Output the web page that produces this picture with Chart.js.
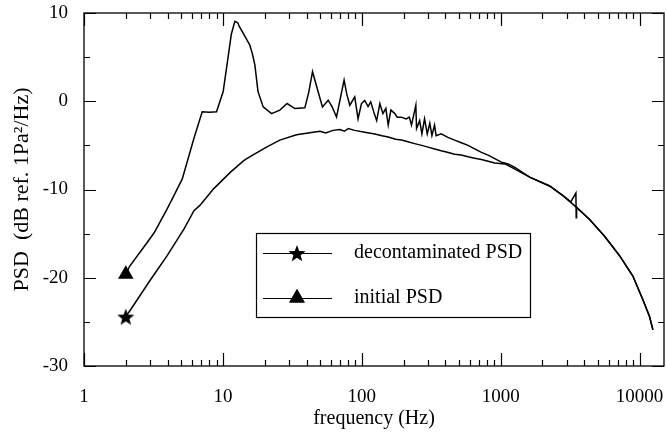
<!DOCTYPE html>
<html>
<head>
<meta charset="utf-8">
<script src="https://cdn.jsdelivr.net/npm/chart.js@4.4.0/dist/chart.umd.min.js"></script>
<style>
  html, body { margin: 0; padding: 0; background: #fff; overflow: hidden; }
  #wrap { width: 666px; height: 434px; position: relative; }
  canvas { display: block; }
</style>
</head>
<body>
<div id="wrap"><canvas id="myChart"></canvas></div>
<script>
// initial PSD (upper curve, with the resonance peaks)
const freqInit = [2, 2.13, 2.85, 3.2, 3.97, 4.44, 5.1, 6.19, 7.1, 8, 9, 10.05, 10.9, 11.5, 12.2, 12.8, 13.1, 15.6, 16.3, 17, 17.9, 19.5,
  22.4, 25.7, 29, 33, 38.9, 41.5, 44.2, 48.5, 52.1, 57.3, 61, 65.8, 70, 74.6, 78, 82, 89, 94, 99.5, 105, 111, 116,
  123, 128, 135, 142, 149, 155, 162, 173, 180, 192, 209, 220, 228, 245, 248, 261, 271, 283, 296, 309, 320, 334, 343,
  373, 417, 466, 521, 582, 650, 727, 812, 907, 1013, 1132, 1265, 1618, 1900, 2252, 2808, 3200, 3480, 3500, 3520,
  4370, 5600, 7180, 8950, 10570, 11800, 12480];
const psdInit = [-19.6, -18.7, -16.0, -14.9, -12.2, -10.7, -8.8, -4.2, -1.2, -1.25, -1.2, 1.1, 5.0, 7.6, 9.05, 8.9, 8.5, 6.4, 5.4, 4.1, 1.1, -0.64,
  -1.4, -1.0, -0.26, -0.83, -0.75, 1.0, 3.35, 1.08, -0.64, 0.12, -0.6, -1.78, 0.3, 2.4, 0.8, -0.45, 0.5, -2.0, -0.26, 0.1, -0.6, -0.07,
  -1.4, -2.2, -0.26, -1.4, -0.8, -2.7, -1.0, -1.4, -1.8, -1.8, -2.0, -1.8, -2.7, -0.45, -3.1, -2.2, -3.7, -2.0, -3.7, -2.5, -3.9, -2.7, -3.9,
  -3.7, -4.1, -4.4, -4.7, -5.0, -5.4, -5.8, -6.1, -6.5, -6.9, -7.1, -7.5, -8.6, -9.1, -9.6, -10.7, -11.4, -10.4, -13.2, -12.0,
  -13.4, -15.3, -17.5, -19.8, -22.5, -24.4, -25.9];

// decontaminated PSD (lower, smooth curve)
const freqDecon = [2, 2.17, 3.02, 3.97, 5.24, 6.19, 6.83, 8.6, 11.4, 14.2, 15.6, 20.6, 25.7, 33.9, 44.7, 50, 55, 62, 69.5, 75,
  80, 89, 105, 124, 140, 155, 175, 193, 215, 240, 270, 300, 335, 373, 420, 466, 520, 582, 650, 727, 812, 907, 1073, 1200, 1618,
  2252, 2808, 3500, 4370, 5600, 7180, 8950, 10570, 11800, 12480];
const psdDecon = [-24.4, -23.6, -20.2, -17.5, -14.5, -12.4, -11.8, -9.9, -8.0, -6.7, -6.3, -5.2, -4.4, -3.8, -3.5, -3.4, -3.6, -3.3, -3.2, -3.4,
  -3.1, -3.3, -3.5, -3.7, -3.9, -4.05, -4.3, -4.4, -4.6, -4.8, -5.0, -5.2, -5.4, -5.6, -5.8, -6.0, -6.1, -6.3, -6.45, -6.6, -6.8, -7.0, -7.1, -7.5, -8.6,
  -9.6, -10.7, -12.0, -13.4, -15.3, -17.5, -19.8, -22.5, -24.4, -25.9];

const xTickLabels = [1, 10, 100, 1000, 10000];
const yTickLabels = [10, 0, -10, -20, -30];
const seriesNames = ['decontaminated PSD', 'initial PSD'];

const serif = '"Liberation Serif", "Times New Roman", serif';

function makeStar(size) {
  const c = document.createElement('canvas');
  c.width = size; c.height = size;
  const g = c.getContext('2d');
  const R = size / 2, r = R * 0.42;
  g.beginPath();
  for (let i = 0; i < 10; i++) {
    const a = -Math.PI / 2 + i * Math.PI / 5;
    const rad = i % 2 === 0 ? R : r;
    g.lineTo(R + rad * Math.cos(a), R + 1 + rad * Math.sin(a));
  }
  g.closePath();
  g.fillStyle = '#000';
  g.fill();
  return c;
}
const star = makeStar(18);

// box round the plot, inward ticks on all four sides, decade labels under x
const frame = {
  id: 'plotFrame',
  afterDraw(chart) {
    const c = chart.ctx;
    const a = chart.chartArea;
    const sx = chart.scales.x, sy = chart.scales.y;
    c.save();
    c.strokeStyle = '#000';
    c.lineWidth = 1.3;
    c.strokeRect(a.left, a.top, a.right - a.left, a.bottom - a.top);
    c.lineWidth = 1.2;
    c.beginPath();
    for (let d = 1; d <= 10000; d *= 10) {
      for (let m = 1; m <= 9; m++) {
        const v = d * m;
        if (v > sx.max) break;
        const px = Math.round(sx.getPixelForValue(v)) + 0.5;
        const len = m === 1 ? 13 : 6;
        c.moveTo(px, a.bottom); c.lineTo(px, a.bottom - len);
        c.moveTo(px, a.top); c.lineTo(px, a.top + len);
      }
    }
    for (let v = -30; v <= 10; v += 5) {
      const py = Math.round(sy.getPixelForValue(v)) + 0.5;
      const len = v % 10 === 0 ? 12 : 6;
      c.moveTo(a.left, py); c.lineTo(a.left + len, py);
      c.moveTo(a.right, py); c.lineTo(a.right - len, py);
    }
    c.stroke();
    c.fillStyle = '#000';
    c.font = '19px ' + serif;
    c.textAlign = 'center';
    c.textBaseline = 'middle';
    xTickLabels.forEach(v => {
      c.fillText(String(v), sx.getPixelForValue(v), a.bottom + 31);
    });
    c.restore();
  }
};

// legend box inside the plot
const legendBox = {
  id: 'legendBox',
  afterDraw(chart) {
    const c = chart.ctx;
    const bx = 256, by = 233, bw = 274, bh = 84;
    const rows = [253, 298];
    c.save();
    c.fillStyle = '#fff';
    c.fillRect(bx, by, bw, bh);
    c.strokeStyle = '#000';
    c.lineWidth = 1.2;
    c.strokeRect(bx + 0.5, by + 0.5, bw, bh);
    c.font = '20px ' + serif;
    c.textBaseline = 'middle';
    c.fillStyle = '#000';
    rows.forEach((ry, i) => {
      c.beginPath();
      c.moveTo(263, ry + 0.5); c.lineTo(332, ry + 0.5);
      c.stroke();
      if (i === 0) {
        c.drawImage(star, 297 - 9, ry - 9);
      } else {
        Chart.helpers.drawPoint(c, {pointStyle: 'triangle', radius: 9, borderWidth: 0}, 297, ry);
        c.fill();
      }
      c.fillText(seriesNames[i], 354, ry);
    });
    c.restore();
  }
};

const canvas = document.getElementById('myChart');

new Chart(canvas, {
  type: 'line',
  data: {
    datasets: [{
      label: seriesNames[0],
      data: freqDecon.map((f, i) => ({x: f, y: psdDecon[i]})),
      borderColor: '#000',
      borderWidth: 1.5,
      pointStyle: star,
      pointRadius: c => c.dataIndex === 0 ? 9 : 0,
      pointBackgroundColor: '#000',
      tension: 0
    }, {
      label: seriesNames[1],
      data: freqInit.map((f, i) => ({x: f, y: psdInit[i]})),
      borderColor: '#000',
      borderWidth: 1.5,
      pointStyle: 'triangle',
      pointRadius: c => c.dataIndex === 0 ? 9 : 0,
      pointBackgroundColor: '#000',
      pointBorderWidth: 0,
      tension: 0
    }]
  },
  options: {
    responsive: true,
    maintainAspectRatio: false,
    animation: false,
    layout: { autoPadding: false, padding: { top: 13, right: 2, left: 0, bottom: 0 } },
    plugins: { legend: { display: false }, tooltip: { enabled: false } },
    scales: {
      x: {
        type: 'logarithmic',
        min: 1,
        max: 15000,
        afterBuildTicks: s => { s.ticks = xTickLabels.map(v => ({value: v})); },
        afterFit: s => { s.height = 68; s.paddingLeft = 0; s.paddingRight = 0; },
        grid: { display: false, drawTicks: false },
        border: { display: false },
        ticks: { display: false },
        title: {
          display: true,
          text: 'frequency (Hz)',
          color: '#000',
          font: { family: serif, size: 20 },
          padding: { top: 0, bottom: 3 }
        }
      },
      y: {
        type: 'linear',
        min: -30,
        max: 10,
        afterBuildTicks: s => { s.ticks = yTickLabels.map(v => ({value: v})); },
        afterFit: s => { s.width = 84; s.paddingTop = 0; s.paddingBottom = 0; },
        grid: { display: false, drawTicks: false },
        border: { display: false },
        ticks: {
          color: '#000',
          font: { family: serif, size: 19 },
          padding: 16,
          callback: v => String(v)
        },
        title: {
          display: true,
          text: 'PSD  (dB ref. 1Pa²/Hz)',
          color: '#000',
          font: { family: serif, size: 22 },
          padding: { top: 9, bottom: 0 }
        }
      }
    }
  },
  plugins: [frame, legendBox]
});
</script>
</body>
</html>
